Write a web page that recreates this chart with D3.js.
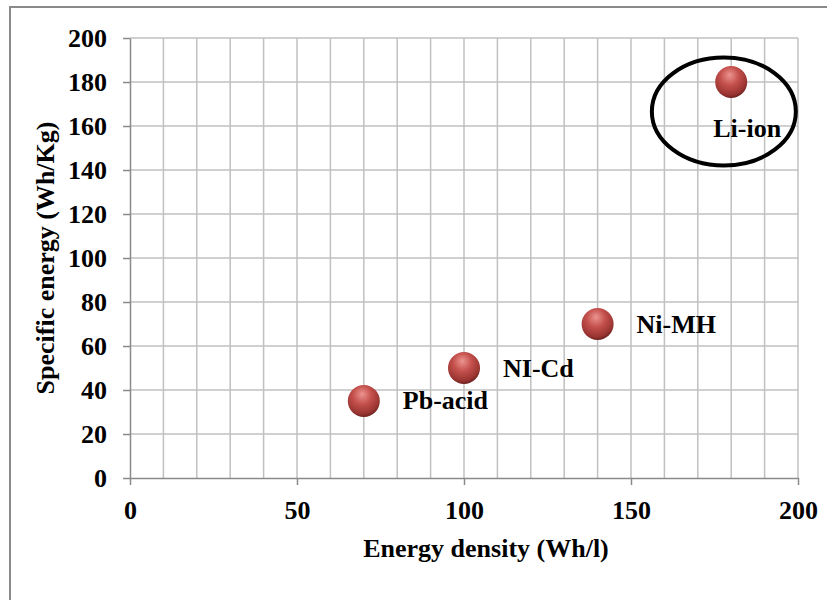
<!DOCTYPE html>
<html>
<head>
<meta charset="utf-8">
<script src="https://cdn.jsdelivr.net/npm/d3@7"></script>
<style>
  body { margin: 0; background: #fff; }
  text { font-family: "Liberation Serif", "Times New Roman", serif; font-weight: bold; fill: #000; }
</style>
</head>
<body>
<script>
// battery types, energy density (Wh/l) vs specific energy (Wh/Kg)
var names = ["Pb-acid", "NI-Cd", "Ni-MH", "Li-ion"];
var energyDensity = [70, 100, 140, 180];
var specificEnergy = [35, 50, 70, 180];
var xTicks = [0, 50, 100, 150, 200];
var yTicks = [0, 20, 40, 60, 80, 100, 120, 140, 160, 180, 200];

var W = 827, H = 600;
var svg = d3.select("body").append("svg").attr("width", W).attr("height", H);

var defs = svg.append("defs");
var grad = defs.append("radialGradient").attr("id", "ball")
  .attr("cx", "45%").attr("cy", "35%").attr("r", "65%")
  .attr("fx", "45%").attr("fy", "28%");
grad.append("stop").attr("offset", "0%").attr("stop-color", "#ec9490");
grad.append("stop").attr("offset", "45%").attr("stop-color", "#c4504c");
grad.append("stop").attr("offset", "85%").attr("stop-color", "#9a3532");
grad.append("stop").attr("offset", "100%").attr("stop-color", "#6e2220");

// outer frame
svg.append("path")
  .attr("d", "M10,600 L10,7 L827,7")
  .attr("fill", "none").attr("stroke", "#8a8a8a").attr("stroke-width", 2);

var x = d3.scaleLinear().domain([0, 200]).range([130, 798]);
var y = d3.scaleLinear().domain([0, 200]).range([478, 38]);

// grid
var g = svg.append("g");
g.selectAll("line.v").data(d3.range(10, 201, 10)).enter().append("line")
  .attr("class", "v")
  .attr("x1", function(d){ return x(d); }).attr("x2", function(d){ return x(d); })
  .attr("y1", y(0)).attr("y2", y(200))
  .attr("stroke", "#c0c0c0").attr("stroke-width", 1.5);
g.selectAll("line.h").data(yTicks.slice(1)).enter().append("line")
  .attr("class", "h")
  .attr("x1", x(0)).attr("x2", x(200))
  .attr("y1", function(d){ return y(d); }).attr("y2", function(d){ return y(d); })
  .attr("stroke", "#c0c0c0").attr("stroke-width", 1.5);

// axes
var xAxis = d3.axisBottom(x).tickValues(xTicks).tickSizeInner(7).tickSizeOuter(0).tickPadding(16);
var yAxis = d3.axisLeft(y).tickValues(yTicks).tickSizeInner(7).tickSizeOuter(0).tickPadding(16);

var gx = svg.append("g").attr("transform", "translate(0," + y(0) + ")").call(xAxis);
var gy = svg.append("g").attr("transform", "translate(" + x(0) + ",0)").call(yAxis);
[gx, gy].forEach(function(a){
  a.select(".domain").attr("stroke", "#8a8a8a").attr("stroke-width", 1.5);
  a.selectAll(".tick line").attr("stroke", "#8a8a8a").attr("stroke-width", 1.5);
  a.selectAll(".tick text").style("font-family", "Liberation Serif, serif")
    .style("font-weight", "bold").style("font-size", "26px").attr("fill", "#000");
});
gy.selectAll(".tick text").attr("dy", "0.34em");

// axis titles
svg.append("text").attr("x", 486).attr("y", 557).attr("text-anchor", "middle")
  .style("font-size", "26px").text("Energy density (Wh/l)");
svg.append("text").attr("transform", "translate(54,258) rotate(-90)").attr("text-anchor", "middle")
  .style("font-size", "26px").text("Specific energy (Wh/Kg)");

// bubbles
svg.selectAll("circle.pt").data(names).enter().append("circle")
  .attr("class", "pt")
  .attr("cx", function(d, i){ return x(energyDensity[i]); })
  .attr("cy", function(d, i){ return y(specificEnergy[i]); })
  .attr("r", 16)
  .attr("fill", "url(#ball)");

// labels
var labelDx = [39, 39, 39, -18];
var labelDy = [8, 9, 9, 55];
svg.selectAll("text.lbl").data(names).enter().append("text")
  .attr("class", "lbl")
  .attr("x", function(d, i){ return x(energyDensity[i]) + labelDx[i]; })
  .attr("y", function(d, i){ return y(specificEnergy[i]) + labelDy[i]; })
  .style("font-size", "26px")
  .text(function(d){ return d; });

// highlight ring round Li-ion
svg.append("ellipse")
  .attr("cx", x(177.8)).attr("cy", y(166.6))
  .attr("rx", 72).attr("ry", 54)
  .attr("fill", "none").attr("stroke", "#000").attr("stroke-width", 4);
</script>
</body>
</html>
